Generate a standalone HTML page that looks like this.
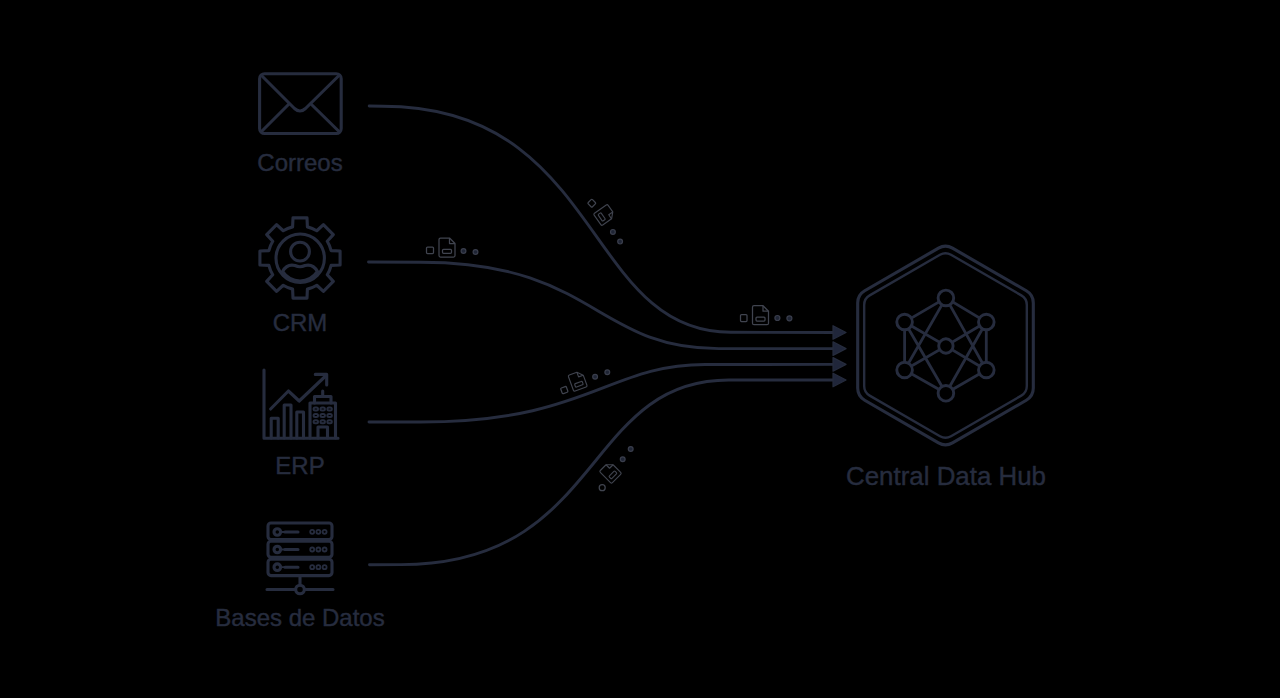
<!DOCTYPE html>
<html><head><meta charset="utf-8">
<style>
html,body{margin:0;padding:0;background:#000;width:1280px;height:698px;overflow:hidden}
svg{position:absolute;left:0;top:0}
text{font-family:"Liberation Sans",sans-serif}
</style></head>
<body>
<svg width="1280" height="698" viewBox="0 0 1280 698">

<g fill="none" stroke="#262c3e" stroke-width="2.9" stroke-linecap="round" stroke-linejoin="round">
  <path d="M369.2 106 L382.7 106.3 C603.4 106.5 583.5 332.3 730.8 332.3 L834 332.5"/>
  <path d="M368.5 262 L420.7 262.3 C594.8 262.3 595.1 348.6 718.7 348.6 L834 348.6"/>
  <path d="M369 422 L420.4 422 C588.1 422 607.9 364.5 705.1 364.5 L834 364.4"/>
  <path d="M369.5 564.7 L401.2 564.6 C604 564.5 582.5 380 728.7 380 L834 380"/>
</g>
<g fill="#20263a" stroke="#262c3d" stroke-width="1.2" stroke-linejoin="round">
  <path d="M833 325.7 L846 332.5 L833 339.3 Z"/>
  <path d="M833 341.8 L846 348.6 L833 355.4 Z"/>
  <path d="M833 357.6 L846 364.4 L833 371.2 Z"/>
  <path d="M833 373.2 L846 380 L833 386.8 Z"/>
</g>

<!-- flow docs -->
<g fill="none" stroke="#40444f" stroke-width="1.25" stroke-linejoin="round" transform="translate(604.5 215) rotate(55) scale(0.9)"><path d="M-6.5 -9.5 L2.5 -9.5 L8 -4 L8 8 Q8 9.5 6.5 9.5 L-6.5 9.5 Q-8 9.5 -8 8 L-8 -8 Q-8 -9.5 -6.5 -9.5 Z"/>
    <path d="M2.5 -9.5 L2.5 -4 L8 -4"/>
    <rect x="-4.5" y="1.8" width="9" height="4" rx="1"/></g>
<g fill="none" stroke="#40444f" stroke-width="1.25" stroke-linejoin="round" transform="translate(447 247.5)"><path d="M-6.5 -9.5 L2.5 -9.5 L8 -4 L8 8 Q8 9.5 6.5 9.5 L-6.5 9.5 Q-8 9.5 -8 8 L-8 -8 Q-8 -9.5 -6.5 -9.5 Z"/>
    <path d="M2.5 -9.5 L2.5 -4 L8 -4"/>
    <rect x="-4.5" y="1.8" width="9" height="4" rx="1"/></g>
<g fill="none" stroke="#40444f" stroke-width="1.25" stroke-linejoin="round" transform="translate(760.5 315.2)"><path d="M-6.5 -9.5 L2.5 -9.5 L8 -4 L8 8 Q8 9.5 6.5 9.5 L-6.5 9.5 Q-8 9.5 -8 8 L-8 -8 Q-8 -9.5 -6.5 -9.5 Z"/>
    <path d="M2.5 -9.5 L2.5 -4 L8 -4"/>
    <rect x="-4.5" y="1.8" width="9" height="4" rx="1"/></g>
<g fill="none" stroke="#40444f" stroke-width="1.25" stroke-linejoin="round" transform="translate(577.7 381) rotate(-20) scale(0.9)"><path d="M-6.5 -9.5 L2.5 -9.5 L8 -4 L8 8 Q8 9.5 6.5 9.5 L-6.5 9.5 Q-8 9.5 -8 8 L-8 -8 Q-8 -9.5 -6.5 -9.5 Z"/>
    <path d="M2.5 -9.5 L2.5 -4 L8 -4"/>
    <rect x="-4.5" y="1.8" width="9" height="4" rx="1"/></g>
<g fill="none" stroke="#40444f" stroke-width="1.25" stroke-linejoin="round" transform="translate(610.5 472.4) rotate(-45) scale(0.9)"><path d="M-6.5 -9.5 L2.5 -9.5 L8 -4 L8 8 Q8 9.5 6.5 9.5 L-6.5 9.5 Q-8 9.5 -8 8 L-8 -8 Q-8 -9.5 -6.5 -9.5 Z"/>
    <path d="M2.5 -9.5 L2.5 -4 L8 -4"/>
    <rect x="-4.5" y="1.8" width="9" height="4" rx="1"/></g>
<g fill="none" stroke="#40444f" stroke-width="1.25">
  <rect x="-3" y="-3" width="6" height="6" rx="1" transform="translate(591.8 203.2) rotate(45)"/>
  <rect x="426.5" y="247" width="7" height="6.5" rx="1"/>
  <rect x="740.5" y="314.5" width="6.5" height="7" rx="1"/>
  <rect x="-3" y="-3" width="6" height="6" rx="1" transform="translate(564.3 390.1) rotate(-20)"/>
  <circle cx="602.2" cy="487.7" r="3"/>
</g>
<g fill="#1f2535" stroke="#3a3e4c" stroke-width="1.2">
  <circle cx="612.9" cy="231.9" r="2.4"/><circle cx="620.1" cy="241.6" r="2.4"/>
  <circle cx="463.5" cy="251" r="2.4"/><circle cx="475.5" cy="252" r="2.4"/>
  <circle cx="777.4" cy="318" r="2.5"/><circle cx="789.4" cy="318.3" r="2.5"/>
  <circle cx="595.1" cy="376.8" r="2.4"/><circle cx="607.3" cy="372.2" r="2.4"/>
  <circle cx="622.7" cy="459.2" r="2.4"/><circle cx="630.7" cy="449" r="2.4"/>
</g>

<!-- envelope -->
<g fill="none" stroke="#262c3e" stroke-width="3.1" stroke-linecap="round" stroke-linejoin="round">
  <rect x="259.6" y="73.7" width="81.6" height="59.8" rx="5"/>
  <path d="M262.5 76.5 L294.5 108.5 Q300 113.5 305.5 108.5 L338 76.5"/>
  <path d="M262 131 L289 104"/>
  <path d="M338.5 131 L311.5 104.5"/>
</g>

<!-- gear -->
<g fill="none" stroke="#262c3e" stroke-width="3.1" stroke-linecap="round" stroke-linejoin="round">
  <path d="M292.60 226.87L293.00 217.91L307.00 217.91L307.40 226.87A32 32 0 0 1 316.78 230.75L323.40 224.70L333.30 234.60L327.25 241.22A32 32 0 0 1 331.13 250.60L340.09 251.00L340.09 265.00L331.13 265.40A32 32 0 0 1 327.25 274.78L333.30 281.40L323.40 291.30L316.78 285.25A32 32 0 0 1 307.40 289.13L307.00 298.09L293.00 298.09L292.60 289.13A32 32 0 0 1 283.22 285.25L276.60 291.30L266.70 281.40L272.75 274.78A32 32 0 0 1 268.87 265.40L259.91 265.00L259.91 251.00L268.87 250.60A32 32 0 0 1 272.75 241.22L266.70 234.60L276.60 224.70L283.22 230.75A32 32 0 0 1 292.60 226.87Z"/>
  <circle cx="300.2" cy="258.2" r="24.2"/>
  <circle cx="300" cy="251.6" r="9.4"/>
  <path d="M282.5 271.5 Q287 263.5 295 265.5 Q300 268 305 265.5 Q313 263.5 317.5 271.5 Q311 281 300 281 Q289 281 282.5 271.5 Z"/>
</g>

<!-- ERP -->
<g fill="none" stroke="#262c3e" stroke-width="3.1" stroke-linecap="round" stroke-linejoin="round">
  <path d="M264 370 L264 438.3 L338 438.3"/>
  <path d="M271.2 438 L271.2 418.3 L278.2 418.3 L278.2 438"/>
  <path d="M284.2 438 L284.2 405 L291 405 L291 438"/>
  <path d="M296.8 438 L296.8 412 L303.5 412 L303.5 438"/>
  <path d="M270.6 409 L288.4 391 L299.2 401 L325.6 376"/>
  <path d="M315.3 374.4 L326.7 374.4 L326.7 385"/>
  <path d="M310 438 L310 403 L335.5 403 L335.5 438"/>
  <path d="M314.5 403 L314.5 396.5 L331 396.5 L331 403"/>
  <path d="M322.7 391 L322.7 396.5"/>
  <path d="M318 438 L318 427 L327.5 427 L327.5 438"/>
</g>
<g fill="none" stroke="#262c3e" stroke-width="2">
  <rect x="313.6" y="407.6" width="4.4" height="3" rx="1.5"/><rect x="320.5" y="407.6" width="4.4" height="3" rx="1.5"/><rect x="327.4" y="407.6" width="4.4" height="3" rx="1.5"/>
  <rect x="313.6" y="413.9" width="4.4" height="3" rx="1.5"/><rect x="320.5" y="413.9" width="4.4" height="3" rx="1.5"/><rect x="327.4" y="413.9" width="4.4" height="3" rx="1.5"/>
  <rect x="313.6" y="420.2" width="4.4" height="3" rx="1.5"/><rect x="320.5" y="420.2" width="4.4" height="3" rx="1.5"/><rect x="327.4" y="420.2" width="4.4" height="3" rx="1.5"/>
</g>

<!-- database -->
<g fill="none" stroke="#262c3e" stroke-width="3.1" stroke-linecap="round" stroke-linejoin="round">
  <rect x="268" y="523" width="64" height="16.5" rx="3"/>
  <rect x="268" y="541.3" width="64" height="16" rx="3"/>
  <rect x="268" y="559.3" width="64" height="16.3" rx="3"/>
  <circle cx="277.3" cy="532" r="3.3"/><circle cx="277.3" cy="549.5" r="3.3"/><circle cx="277.3" cy="567.2" r="3.3"/>
  <path d="M285 532 L298 532 M285 549.5 L298 549.5 M285 567.2 L298 567.2"/>
  <path d="M300 576 L300 585 M267 589.5 L295.5 589.5 M304.5 589.5 L333 589.5"/>
  <circle cx="300" cy="589.5" r="4.3"/>
</g>
<g fill="none" stroke="#262c3e" stroke-width="1.8">
  <path d="M281 532 L285 532 M281 549.5 L285 549.5 M281 567.2 L285 567.2"/>
  <circle cx="312.2" cy="531.8" r="2"/><circle cx="318.4" cy="531.8" r="2"/><circle cx="324.6" cy="531.8" r="2"/>
  <circle cx="312.2" cy="549.5" r="2"/><circle cx="318.4" cy="549.5" r="2"/><circle cx="324.6" cy="549.5" r="2"/>
  <circle cx="312.2" cy="567.2" r="2"/><circle cx="318.4" cy="567.2" r="2"/><circle cx="324.6" cy="567.2" r="2"/>
</g>

<!-- hub -->
<g fill="none" stroke="#262c3e" stroke-linecap="round" stroke-linejoin="round">
  <path d="M938.50 248.14A14 14 0 0 1 952.50 248.14L1026.31 290.76A14 14 0 0 1 1033.31 302.88L1033.31 388.12A14 14 0 0 1 1026.31 400.24L952.50 442.86A14 14 0 0 1 938.50 442.86L864.69 400.24A14 14 0 0 1 857.69 388.12L857.69 302.88A14 14 0 0 1 864.69 290.76Z" stroke-width="3.1"/>
  <path d="M940.00 254.78A11 11 0 0 1 951.00 254.78L1021.32 295.37A11 11 0 0 1 1026.82 304.90L1026.82 386.10A11 11 0 0 1 1021.32 395.63L951.00 436.22A11 11 0 0 1 940.00 436.22L869.68 395.63A11 11 0 0 1 864.18 386.10L864.18 304.90A11 11 0 0 1 869.68 295.37Z" stroke-width="2.4"/>
</g>
<g fill="none" stroke="#262c3e" stroke-width="2.8" stroke-linecap="round">
  <path d="M945.9 297.9 L904.6 322 L904.6 370 L945.9 393.3 L986.3 370 L986.3 322 Z"/>
  <path d="M945.9 297.9 L904.6 370 M945.9 297.9 L986.3 370 M904.6 322 L945.9 393.3 M986.3 322 L945.9 393.3"/>
  <path d="M904.6 322 L945.9 346 L986.3 322 M904.6 370 L945.9 346 L986.3 370"/>
</g>
<g fill="#000" stroke="#262c3e" stroke-width="2.9">
  <circle cx="945.9" cy="297.9" r="7.8"/>
  <circle cx="904.6" cy="322" r="7.8"/>
  <circle cx="986.3" cy="322" r="7.8"/>
  <circle cx="945.9" cy="346" r="7.2"/>
  <circle cx="904.6" cy="370" r="7.8"/>
  <circle cx="986.3" cy="370" r="7.8"/>
  <circle cx="945.9" cy="393.3" r="7.8"/>
</g>

<g fill="#262c3e" stroke="#262c3e" stroke-width="0.45" font-size="24" text-anchor="middle">
<text x="300" y="171">Correos</text>
<text x="300" y="331">CRM</text>
<text x="300" y="474">ERP</text>
<text x="300" y="625.5">Bases de Datos</text>
<text x="946" y="485" font-size="26.5" textLength="200" lengthAdjust="spacingAndGlyphs">Central Data Hub</text>
</g>
</svg>
</body></html>
